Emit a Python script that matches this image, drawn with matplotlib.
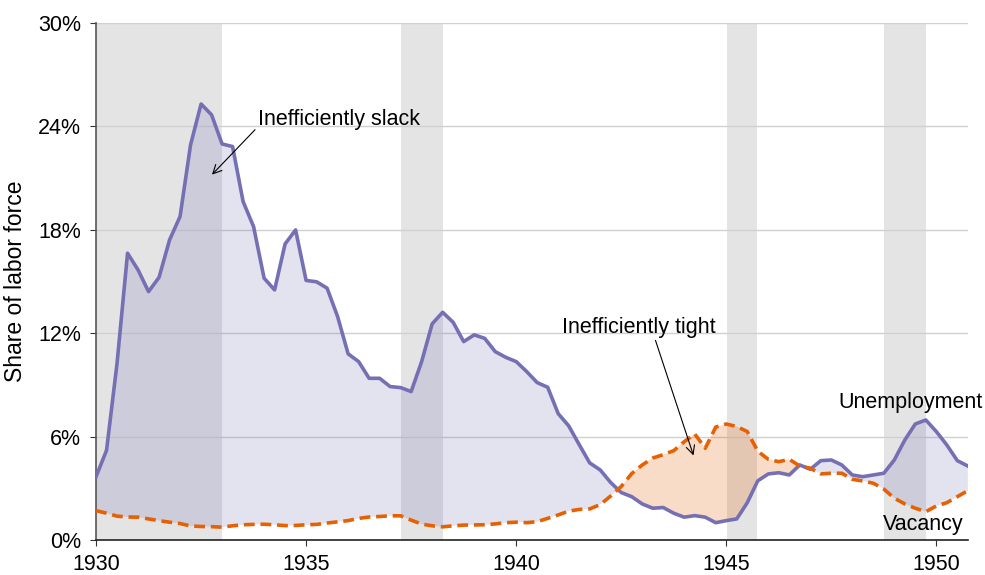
import numpy as np
import matplotlib.pyplot as plt
from matplotlib.ticker import FuncFormatter

plt.rcParams['font.family'] = ['Liberation Sans', 'DejaVu Sans']

# quarterly observations, 1930Q1 .. 1950Q4
years = 1930 + 0.25 * np.arange(84)

unemployment = [
    3.67, 5.2, 10.25, 16.64, 15.67, 14.41, 15.24, 17.41, 18.77, 22.93, 25.3, 24.67,
    22.98, 22.83, 19.64, 18.18, 15.19, 14.51, 17.18, 17.99, 15.06, 14.98, 14.61, 12.96,
    10.8, 10.35, 9.38, 9.38, 8.9, 8.84, 8.61, 10.35, 12.54, 13.21, 12.63, 11.51,
    11.9, 11.7, 10.93, 10.6, 10.35, 9.77, 9.13, 8.86, 7.33, 6.62, 5.53, 4.47,
    4.06, 3.33, 2.75, 2.51, 2.09, 1.84, 1.88, 1.55, 1.32, 1.41, 1.32, 1.0,
    1.12, 1.22, 2.16, 3.43, 3.83, 3.9, 3.77, 4.35, 4.1, 4.6, 4.64, 4.35,
    3.77, 3.67, 3.77, 3.87, 4.64, 5.8, 6.73, 6.96, 6.29, 5.51, 4.6, 4.29,
]

vacancy = [
    1.70, 1.55, 1.38, 1.33, 1.32, 1.22, 1.12, 1.03, 0.95, 0.81, 0.78, 0.77,
    0.74, 0.82, 0.88, 0.90, 0.91, 0.88, 0.83, 0.84, 0.88, 0.90, 0.98, 1.05,
    1.12, 1.25, 1.33, 1.36, 1.40, 1.40, 1.15, 0.92, 0.82, 0.76, 0.82, 0.86,
    0.87, 0.88, 0.93, 1.00, 1.03, 1.00, 1.06, 1.25, 1.45, 1.67, 1.77, 1.80,
    2.05, 2.55, 3.10, 3.85, 4.35, 4.75, 4.95, 5.18, 5.70, 6.15, 5.32, 6.55,
    6.73, 6.58, 6.29, 5.15, 4.68, 4.54, 4.68, 4.29, 4.16, 3.83, 3.87, 3.87,
    3.52, 3.42, 3.29, 2.95, 2.42, 2.09, 1.84, 1.64, 1.97, 2.16, 2.51, 2.86,
]

# recession periods (start, end)
recessions = [(1929.6, 1933.0), (1937.25, 1938.25), (1945.02, 1945.74), (1948.76, 1949.76)]

u = np.array(unemployment)
v = np.array(vacancy)

purple = '#7570b3'
orange = '#e66101'
fs = 15.5

fig, ax = plt.subplots(figsize=(9.85, 5.75), dpi=100)
fig.subplots_adjust(left=0.0975, right=0.983, bottom=0.061, top=0.96)

for start, end in recessions:
    ax.axvspan(start, end, color='#e4e4e4', zorder=0, lw=0)

for yv in [6, 12, 18, 24, 30]:
    ax.axhline(yv, color='#d0d0d0', lw=1, zorder=1)

ax.fill_between(years, u, v, where=u >= v, interpolate=True,
                color=purple, alpha=0.2, lw=0, zorder=2)
ax.fill_between(years, u, v, where=u < v, interpolate=True,
                color=orange, alpha=0.22, lw=0, zorder=2)

ax.plot(years, u, color=purple, lw=2.6, zorder=4)
ax.plot(years, v, color=orange, lw=2.6, ls=(0, (3, 1.6)), zorder=4)

ax.set_xlim(1930, 1950.76)
ax.set_ylim(0, 30)
ax.set_xticks([1930, 1935, 1940, 1945, 1950])
ax.set_yticks([0, 6, 12, 18, 24, 30])
ax.yaxis.set_major_formatter(FuncFormatter(lambda val, pos: '%d%%' % val))
ax.tick_params(labelsize=fs, length=4, color='#333333', direction='out')
ax.tick_params(axis='y', pad=7)
ax.tick_params(axis='x', pad=6)
ax.set_ylabel('Share of labor force', fontsize=16.5)
ax.yaxis.set_label_coords(-0.079, 0.5)

for side in ['top', 'right']:
    ax.spines[side].set_visible(False)
ax.spines['left'].set_color('#555555')
ax.spines['bottom'].set_color('#222222')
ax.spines['left'].set_linewidth(1.2)
ax.spines['bottom'].set_linewidth(1.2)

ax.annotate('Inefficiently slack', xy=(1932.76, 21.2), xytext=(1933.85, 24.4),
            fontsize=fs, va='center', ha='left',
            arrowprops=dict(arrowstyle='->', color='black', lw=0.8,
                            shrinkA=0, shrinkB=0, relpos=(0, 0.15)), zorder=5)
ax.annotate('Inefficiently tight', xy=(1944.22, 4.9), xytext=(1941.1, 12.35),
            fontsize=fs, va='center', ha='left',
            arrowprops=dict(arrowstyle='->', color='black', lw=0.8,
                            shrinkA=0, shrinkB=0, relpos=(0.6, 0.0)), zorder=5)

ax.text(1951.1, 7.95, 'Unemployment', fontsize=fs, ha='right', va='center')
ax.text(1950.64, 0.9, 'Vacancy', fontsize=fs, ha='right', va='center')

fig.savefig('out.png', dpi=100)
